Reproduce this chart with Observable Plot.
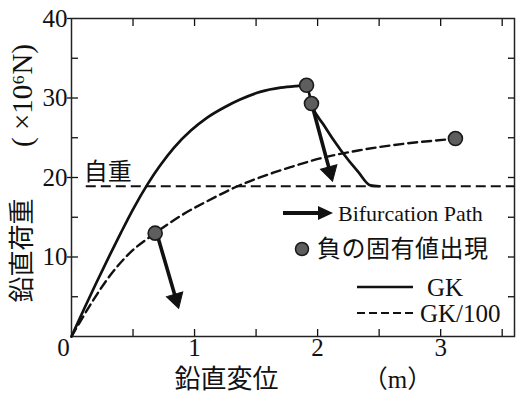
<!DOCTYPE html>
<html><head><meta charset="utf-8">
<script src="https://cdn.jsdelivr.net/npm/d3@7"></script>
<script src="https://cdn.jsdelivr.net/npm/@observablehq/plot@0.6"></script>
<style>
body{margin:0;background:#fff;}
#wrap{position:relative;width:519px;height:394px;}
#wrap svg text{font-family:'Liberation Serif','Noto Sans CJK JP',serif;}
#legend{position:absolute;left:0;top:0;pointer-events:none;}
</style></head><body><div id="wrap"></div>
<script>
// ---- data ----
const gkX = [0, 0.1, 0.2, 0.3, 0.4, 0.5, 0.62, 0.72, 0.83, 0.97, 1.10, 1.24, 1.37, 1.54, 1.70, 1.82, 1.91, 1.95, 2.05, 2.19, 2.33, 2.43, 2.50];
const gkY = [0, 3.4, 6.7, 9.9, 13.0, 16.0, 19.2, 21.5, 23.7, 25.9, 27.5, 28.8, 29.8, 30.8, 31.3, 31.5, 31.6, 29.3, 26.6, 23.4, 20.7, 19.0, 18.9];
const gk100X = [0, 0.06, 0.17, 0.30, 0.46, 0.68, 0.90, 1.10, 1.35, 1.64, 1.78, 2.02, 2.33, 2.73, 3.06, 3.12];
const gk100Y = [0, 1.6, 4.4, 7.4, 10.3, 13.0, 15.3, 17.0, 18.9, 20.6, 21.3, 22.4, 23.4, 24.3, 24.8, 24.9];
const eigX = [1.91, 1.95, 0.68, 3.12];
const eigY = [31.6, 29.3, 13.0, 24.9];
const arrowFromX = [0.70, 1.96];
const arrowFromY = [12.6, 28.8];
const arrowToX = [0.87, 2.12];
const arrowToY = [3.6, 19.6];
const selfWeight = 18.9;
const selfWeightLabel = "自重";
const xMajor = [1, 2, 3];
const xMinor = [0.5, 1, 1.5, 2, 2.5, 3, 3.5];
const yMajor = [10, 20, 30, 40];
const yMinor = [5, 10, 15, 20, 25, 30, 35];
const xLabel = "鉛直変位";
const xUnit = "（m）";
const yLabel = "鉛直荷重";
const yUnit = "( ×10⁶N)";
const legendLabels = ["Bifurcation Path", "負の固有値出現", "GK", "GK/100"];

// ---- layout ----
const W = 519, H = 394, mL = 71, mT = 18, mR = 5, mB = 58;
const xDom = [0, 3.6], yDom = [0, 40];
const pxX = (W - mL - mR) / (xDom[1] - xDom[0]);
const pxY = (H - mT - mB) / (yDom[1] - yDom[0]);

const gk = gkX.map((x, i) => ({x, y: gkY[i]}));
const gk100 = gk100X.map((x, i) => ({x, y: gk100Y[i]}));
const eig = eigX.map((x, i) => ({x, y: eigY[i]}));
const headTipOffset = 9.3;
const arrows = arrowFromX.map((x1, i) => {
  const y1 = arrowFromY[i], x2 = arrowToX[i], y2 = arrowToY[i];
  const dxp = (x2 - x1) * pxX, dyp = -(y2 - y1) * pxY;
  const L = Math.hypot(dxp, dyp);
  const ux = dxp / L, uy = dyp / L;
  const hx = x2 - ux * headTipOffset / pxX;
  const hy = y2 + uy * headTipOffset / pxY;
  const rot = Math.atan2(dxp, -dyp) * 180 / Math.PI;
  return {x1, y1, x2, y2, hx, hy, rot};
});

const serif = "Liberation Serif, Noto Sans CJK JP, serif";
const blank = () => "";
const fmt = d => `${d}`;

const chart = Plot.plot({
  width: W, height: H,
  marginLeft: mL, marginTop: mT, marginRight: mR, marginBottom: mB,
  x: {domain: xDom},
  y: {domain: yDom},
  style: {fontFamily: serif, color: "#111", background: "white", overflow: "visible"},
  marks: [
    Plot.axisX(xMinor, {anchor: "bottom", tickSize: -7, tickFormat: blank, label: null, strokeWidth: 1.3}),
    Plot.axisX(xMinor, {anchor: "top", tickSize: -7, tickFormat: blank, label: null, strokeWidth: 1.3}),
    Plot.axisY(yMinor, {anchor: "left", tickSize: -7, tickFormat: blank, label: null, strokeWidth: 1.3}),
    Plot.axisY(yMinor, {anchor: "right", tickSize: -7, tickFormat: blank, label: null, strokeWidth: 1.3}),
    Plot.axisX(xMajor, {anchor: "bottom", tickSize: 0, tickPadding: 2, fontSize: 25, tickFormat: fmt, label: null}),
    Plot.axisX([0], {anchor: "bottom", tickSize: 0, tickPadding: 2, fontSize: 25, tickFormat: fmt, label: null, dx: -8}),
    Plot.axisY(yMajor, {anchor: "left", tickSize: 4, tickPadding: 0, fontSize: 25, tickFormat: fmt, label: null, strokeWidth: 1.3}),
    Plot.frame({stroke: "#222", strokeWidth: 1.5}),
    Plot.ruleY([selfWeight], {x1: 0.12, x2: xDom[1], stroke: "#111", strokeWidth: 2.2, strokeDasharray: "10,5"}),
    Plot.text([selfWeightLabel], {x: 0.1, y: selfWeight, text: d => d, textAnchor: "start", dy: -14, fontSize: 24, fill: "#111"}),
    Plot.line(gk100, {x: "x", y: "y", stroke: "#111", strokeWidth: 2.4, strokeDasharray: "9,5", curve: "monotone-x"}),
    Plot.line(gk, {x: "x", y: "y", stroke: "#111", strokeWidth: 2.7, curve: "monotone-x"}),
    Plot.link(arrows, {x1: "x1", y1: "y1", x2: "hx", y2: "hy", stroke: "#111", strokeWidth: 3.6}),
    Plot.dot(arrows, {x: "hx", y: "hy", symbol: "triangle", r: 6.3, rotate: "rot", fill: "#111", stroke: "#111", strokeWidth: 1}),
    Plot.dot(eig, {x: "x", y: "y", r: 7, fill: "#5e5e5e", stroke: "#1a1a1a", strokeWidth: 1.6}),
    Plot.text([xLabel], {frameAnchor: "top-left", dx: 155, dy: 361, textAnchor: "middle", lineAnchor: "middle", text: d => d, fontSize: 26, fill: "#111"}),
    Plot.text([xUnit], {frameAnchor: "top-left", dx: 326, dy: 361, textAnchor: "middle", lineAnchor: "middle", text: d => d, fontSize: 25, fill: "#111"}),
    Plot.text([yLabel], {frameAnchor: "top-left", dx: -49, dy: 232, rotate: -90, textAnchor: "middle", lineAnchor: "middle", text: d => d, fontSize: 26, fill: "#111"}),
    Plot.text([yUnit], {frameAnchor: "top-left", dx: -49, dy: 77, rotate: -90, textAnchor: "middle", lineAnchor: "middle", text: d => d, fontSize: 29, fill: "#111"})
  ]
});
const wrap = document.getElementById("wrap");
wrap.appendChild(chart);

// ---- legend overlay ----
const lg = d3.select(wrap).append("svg").attr("id", "legend").attr("width", W).attr("height", H);
const rows = [213, 249, 287, 313];
lg.append("line").attr("x1", 283).attr("x2", 322).attr("y1", rows[0]).attr("y2", rows[0]).attr("stroke", "#111").attr("stroke-width", 4);
lg.append("path").attr("d", `M318,${rows[0]-7}L333,${rows[0]}L318,${rows[0]+7}Z`).attr("fill", "#111");
lg.append("text").attr("x", 338).attr("y", rows[0]).attr("dy", "0.35em").attr("font-size", 22).attr("fill", "#111").text(legendLabels[0]);
lg.append("circle").attr("cx", 302).attr("cy", rows[1]).attr("r", 6.5).attr("fill", "#5e5e5e").attr("stroke", "#1a1a1a").attr("stroke-width", 1.5);
lg.append("text").attr("x", 317).attr("y", rows[1]).attr("dy", "0.35em").attr("font-size", 24).attr("letter-spacing", 0.5).attr("fill", "#111").text(legendLabels[1]);
lg.append("line").attr("x1", 357).attr("x2", 413).attr("y1", rows[2]).attr("y2", rows[2]).attr("stroke", "#111").attr("stroke-width", 2.4);
lg.append("text").attr("x", 427).attr("y", rows[2]).attr("dy", "0.35em").attr("font-size", 25).attr("fill", "#111").text(legendLabels[2]);
lg.append("line").attr("x1", 357).attr("x2", 417).attr("y1", rows[3]).attr("y2", rows[3]).attr("stroke", "#111").attr("stroke-width", 2).attr("stroke-dasharray", "8,4");
lg.append("text").attr("x", 420).attr("y", rows[3]).attr("dy", "0.35em").attr("font-size", 25).attr("fill", "#111").text(legendLabels[3]);
</script></body></html>
